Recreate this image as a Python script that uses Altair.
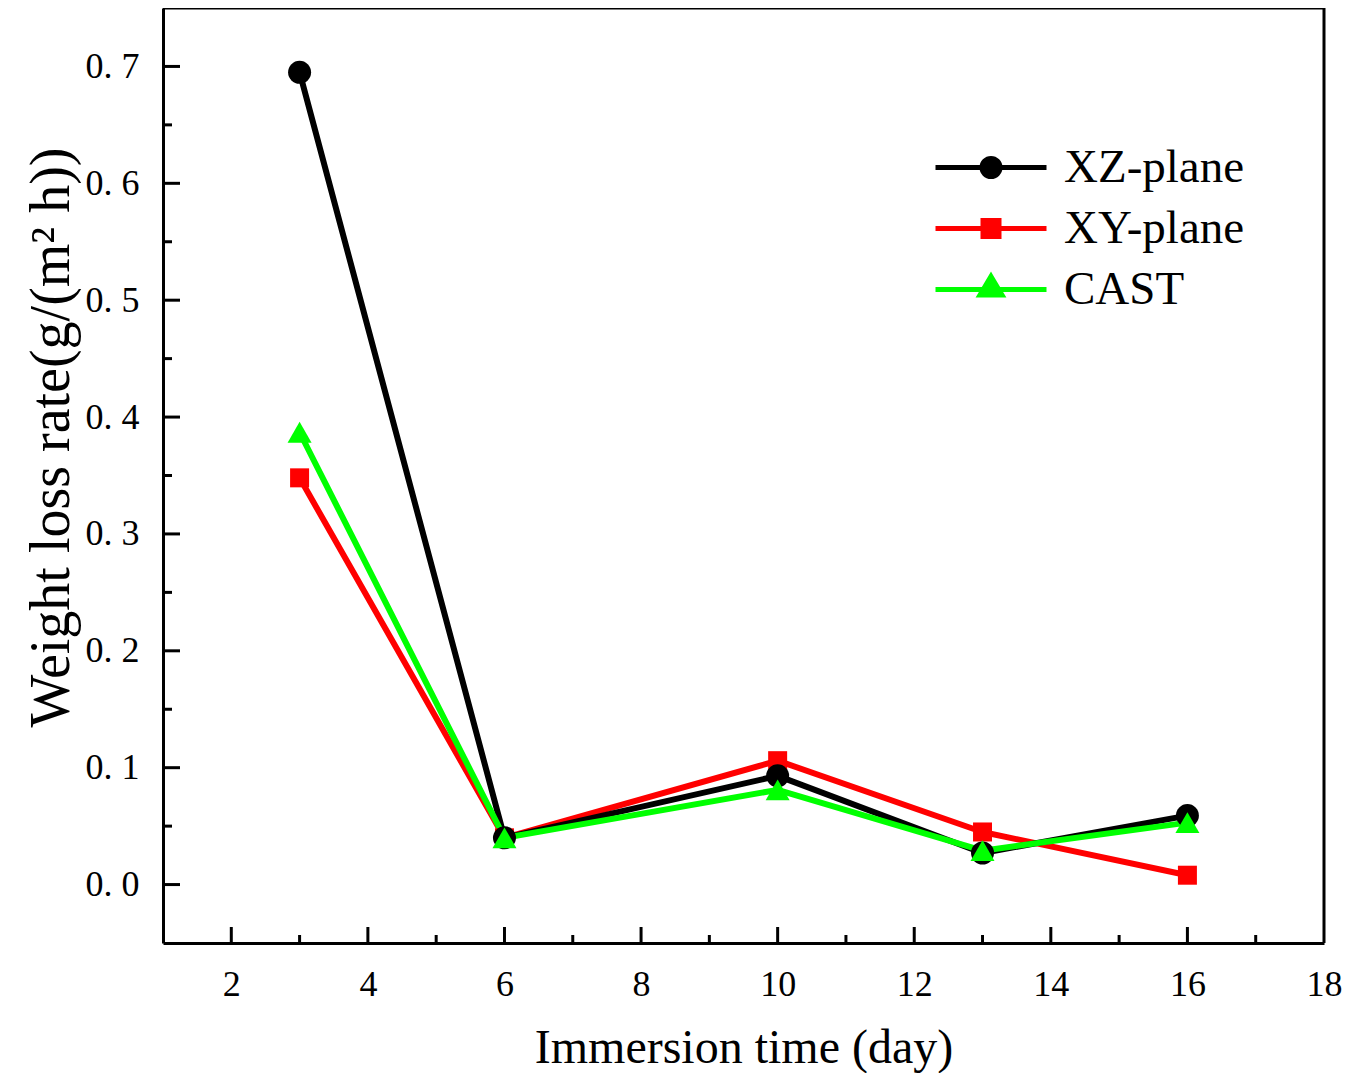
import altair as alt
import pandas as pd

days = [3, 6, 10, 13, 16]
xz = [0.695, 0.040, 0.093, 0.027, 0.059]
xy = [0.348, 0.040, 0.106, 0.045, 0.008]
cast = [0.387, 0.040, 0.081, 0.029, 0.053]
series_names = ["XZ-plane", "XY-plane", "CAST"]
colors = ["#000000", "#FF0000", "#00FF00"]

x_major = [2, 4, 6, 8, 10, 12, 14, 16, 18]
x_minor = [3, 5, 7, 9, 11, 13, 15, 17]
y_major = [0.0, 0.1, 0.2, 0.3, 0.4, 0.5, 0.6, 0.7]
y_minor = [0.05, 0.15, 0.25, 0.35, 0.45, 0.55, 0.65]

rows = []
# drawing order: XY below, XZ, CAST on top
for name, vals in [("XY-plane", xy), ("XZ-plane", xz), ("CAST", cast)]:
    for d, v in zip(days, vals):
        rows.append({"day": d, "rate": v, "series": name})
df = pd.DataFrame(rows)
legend_df = pd.DataFrame({"series": series_names})

W, H = 1161, 935
FONT = "Liberation Serif"

xscale = alt.Scale(domain=[1, 18], nice=False, zero=False)
yscale = alt.Scale(domain=[-0.05, 0.75], nice=False, zero=False)

xaxis = alt.Axis(values=x_major, title="Immersion time (day)", ticks=False, grid=False,
                 domainColor="black", domainWidth=3, labelFont=FONT, labelFontSize=36,
                 labelColor="black", labelPadding=24, titleFont=FONT, titleFontSize=48,
                 titleFontWeight="normal", titleColor="black", titlePadding=22,
                 labelFlush=False)
yaxis = alt.Axis(values=y_major, title="Weight loss rate(g/(m\u00b2 h))", ticks=False, grid=False,
                 domainColor="black", domainWidth=3, labelFont=FONT, labelFontSize=36,
                 labelColor="black", labelPadding=24, titleFont=FONT, titleFontSize=56,
                 titleFontWeight="normal", titleColor="black", titlePadding=5, titleY=429,
                 labelExpr="replace(format(datum.value, '.1f'), '.', '. ')", labelFlush=False)

X = lambda: alt.X("day:Q", scale=xscale, axis=xaxis)
Y = lambda: alt.Y("rate:Q", scale=yscale, axis=yaxis)

# legend symbols: line with marker (custom SVG paths, unit = 10 px)
line_part = "M-1,0L10.1,0"
legend_shapes = [
    line_part + "M3.65,0C3.65,-0.5 4.05,-0.9 4.55,-0.9C5.05,-0.9 5.45,-0.5 5.45,0"
                "C5.45,0.5 5.05,0.9 4.55,0.9C4.05,0.9 3.65,0.5 3.65,0Z",
    line_part + "M3.75,-0.8L5.35,-0.8L5.35,0.8L3.75,0.8Z",
    line_part + "M4.55,-1.3L5.65,0.55L3.45,0.55Z",
]

legend = alt.Legend(orient="none", legendX=759, legendY=136, title=None,
                    labelFont=FONT, labelFontSize=47, labelColor="black", labelLimit=500,
                    symbolSize=400, symbolStrokeWidth=5, rowPadding=13, labelOffset=95,
                    symbolOffset=0)

lines = alt.Chart(df).mark_line(strokeWidth=6, strokeJoin="round").encode(
    x=X(), y=Y(),
    color=alt.Color("series:N", scale=alt.Scale(domain=series_names, range=colors), legend=legend),
    detail="series:N",
)

point_specs = [("XY-plane", "square", 361, "#FF0000"),
               ("XZ-plane", "circle", 529, "#000000"),
               ("CAST", "triangle-up", 576, "#00FF00")]
point_layers = []
for name, shp, sz, col in point_specs:
    point_layers.append(
        alt.Chart(df).transform_filter(alt.datum.series == name).mark_point(
            filled=True, opacity=1, shape=shp, size=sz, color=col
        ).encode(x=X(), y=Y())
    )

# legend-only layer: its own marks are invisible, it gives the legend its symbols
legend_layer = alt.Chart(legend_df).mark_point(
    filled=True, size=400, strokeWidth=5, fillOpacity=0, strokeOpacity=0
).encode(
    x=alt.value(10), y=alt.value(10),
    fill=alt.Fill("series:N", scale=alt.Scale(domain=series_names, range=colors), legend=legend),
    stroke=alt.Stroke("series:N", scale=alt.Scale(domain=series_names, range=colors), legend=legend),
    shape=alt.Shape("series:N", scale=alt.Scale(domain=series_names, range=legend_shapes), legend=legend),
)

xt_major = pd.DataFrame({"day": x_major[:-1]})
xt_minor = pd.DataFrame({"day": x_minor})
yt_major = pd.DataFrame({"rate": y_major})
yt_minor = pd.DataFrame({"rate": y_minor})

xtick_major = alt.Chart(xt_major).mark_rule(color="black", strokeWidth=3).encode(
    x=X(), y=alt.value(H), y2=alt.value(H - 16))
xtick_minor = alt.Chart(xt_minor).mark_rule(color="black", strokeWidth=3).encode(
    x=X(), y=alt.value(H), y2=alt.value(H - 8))
ytick_major = alt.Chart(yt_major).mark_rule(color="black", strokeWidth=3).encode(
    y=Y(), x=alt.value(0), x2=alt.value(17))
ytick_minor = alt.Chart(yt_minor).mark_rule(color="black", strokeWidth=3).encode(
    y=Y(), x=alt.value(0), x2=alt.value(9))

# frame top and right edges
frame_top = alt.Chart(legend_df.head(1)).mark_rule(color="black", strokeWidth=3).encode(
    x=alt.value(0), x2=alt.value(W), y=alt.value(0))
frame_right = alt.Chart(legend_df.head(1)).mark_rule(color="black", strokeWidth=3).encode(
    x=alt.value(W), y=alt.value(0), y2=alt.value(H))

chart = alt.layer(xtick_major, xtick_minor, ytick_major, ytick_minor, frame_top, frame_right,
                  lines, *point_layers, legend_layer).properties(
    width=W, height=H,
    autosize=alt.AutoSizeParams(type="none"),
    padding={"left": 155, "top": 0, "right": 18, "bottom": 130},
    background="white",
).configure_view(stroke=None)

chart.save("out.html", embed_options={"renderer": "svg", "actions": False})
